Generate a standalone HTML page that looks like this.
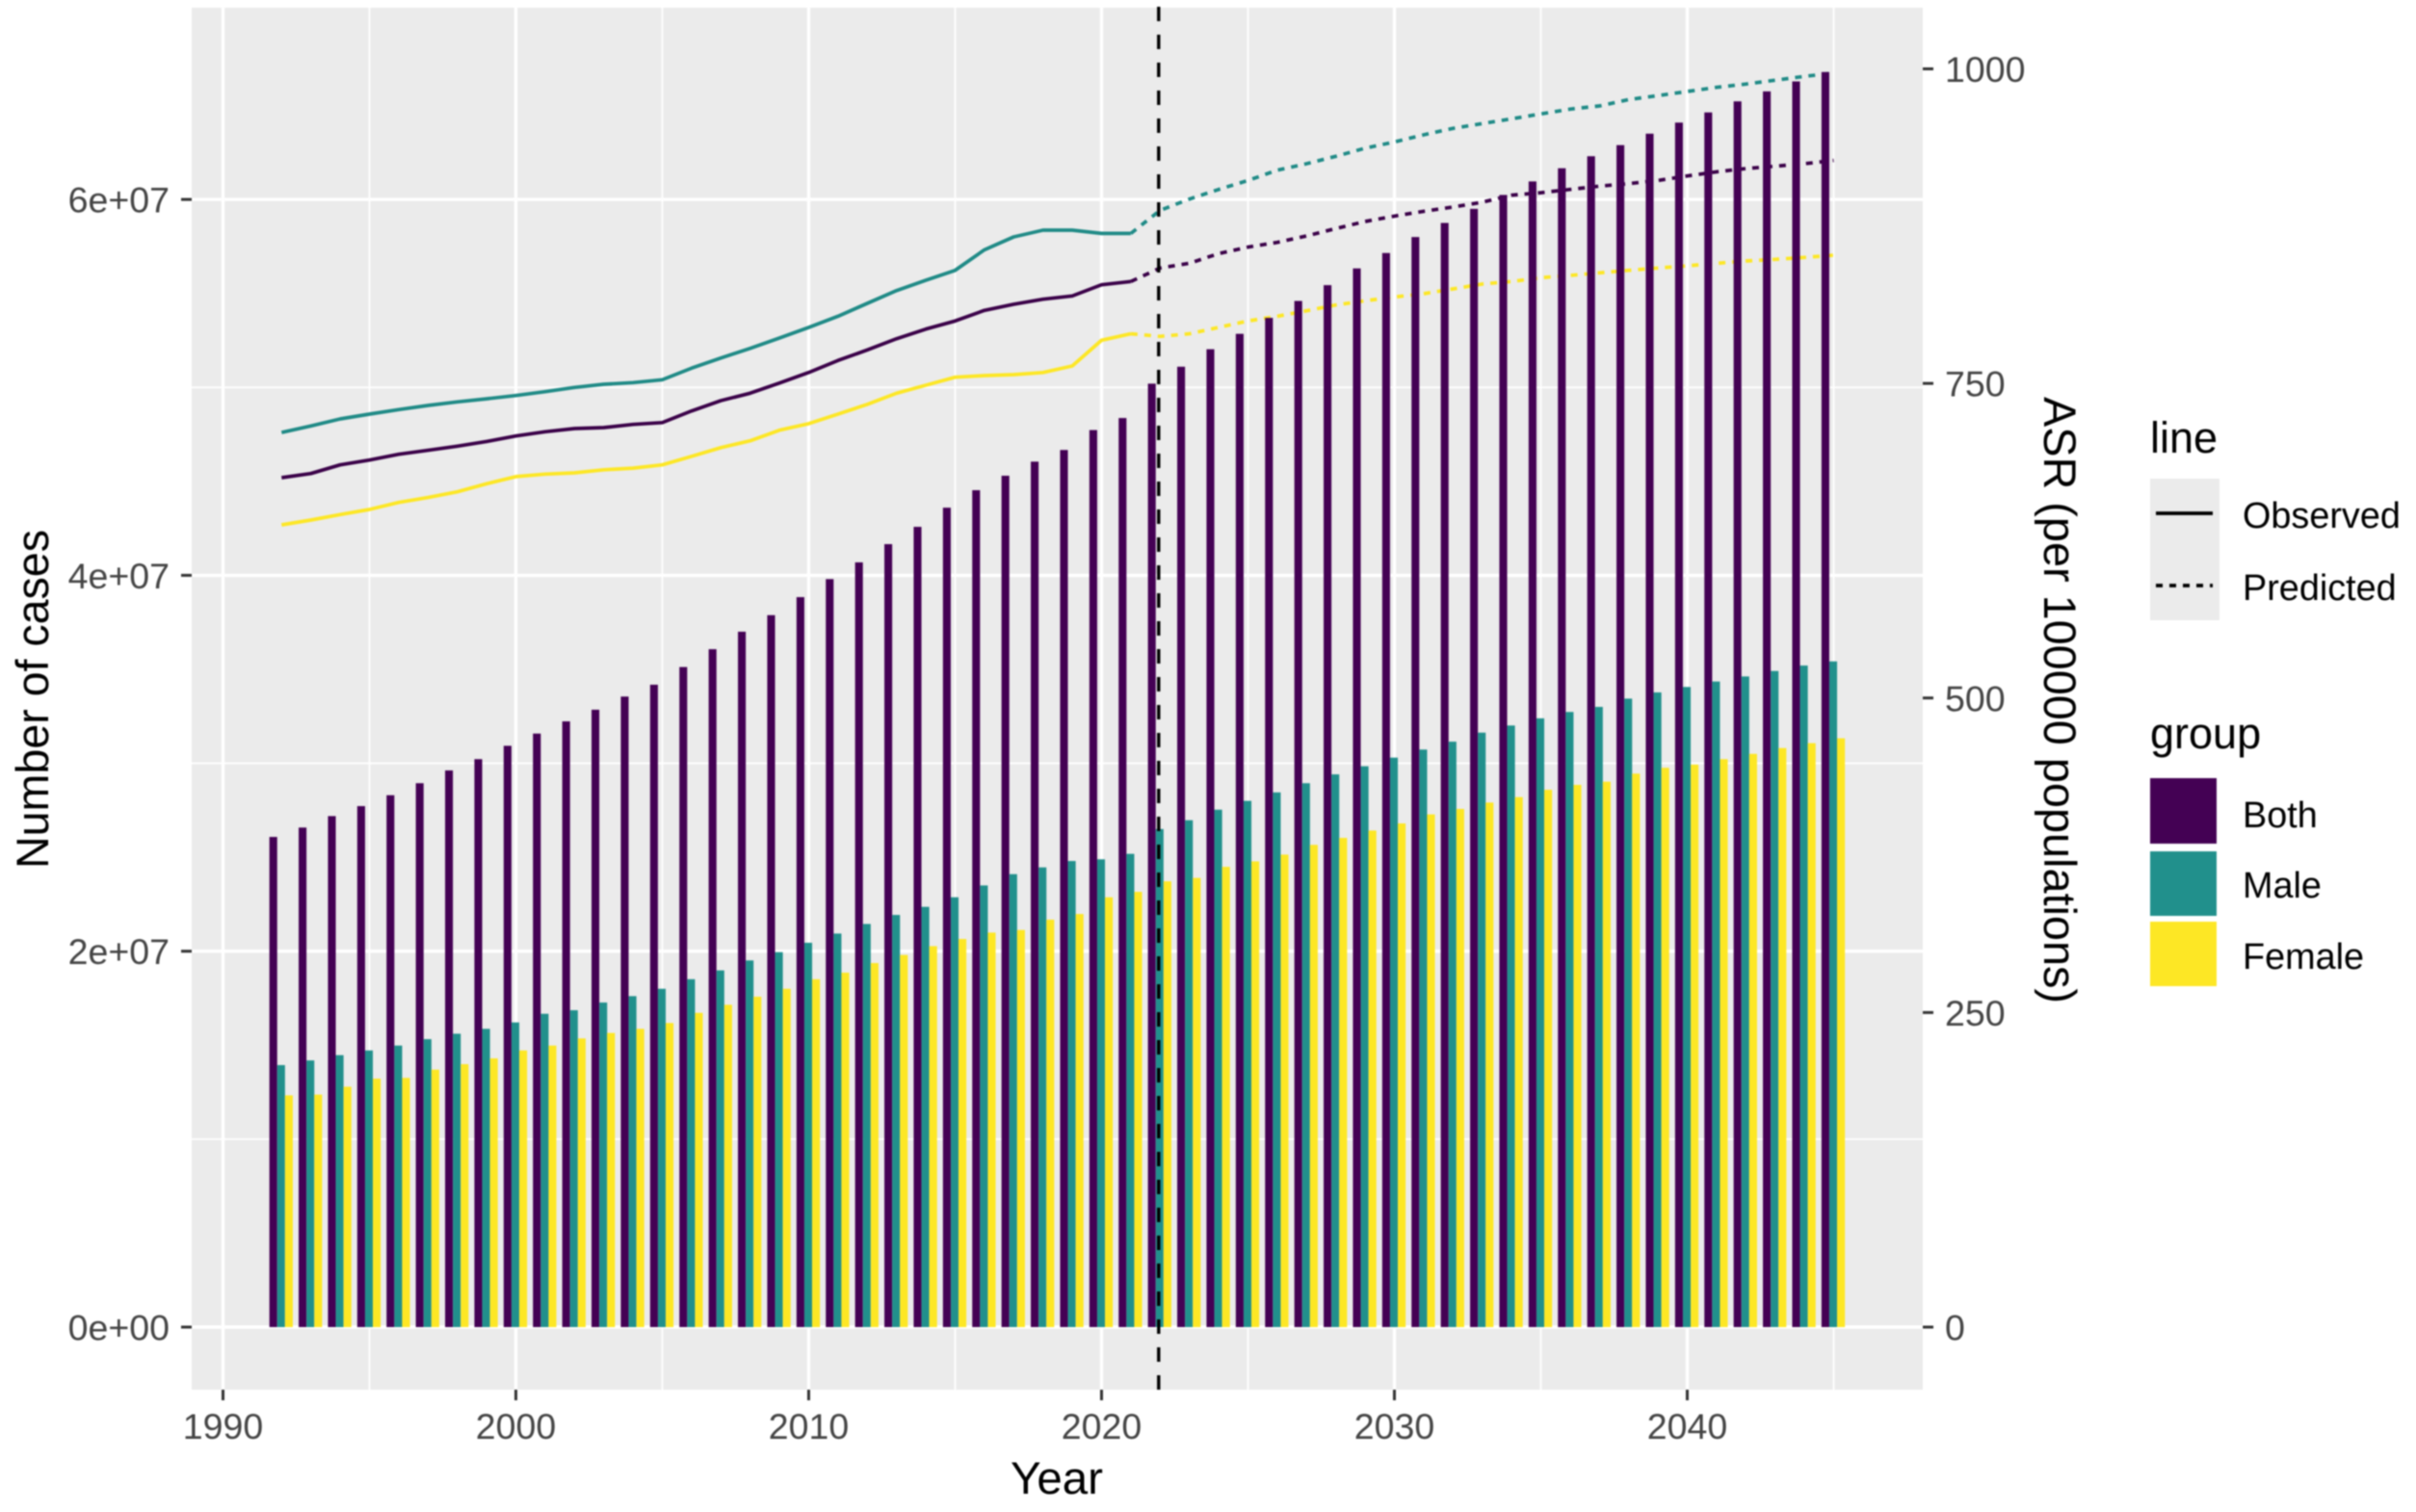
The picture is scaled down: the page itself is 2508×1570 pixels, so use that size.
<!DOCTYPE html>
<html>
<head>
<meta charset="utf-8">
<title>Number of cases and ASR by year</title>
<style>
html,body{margin:0;padding:0;background:#fff;}
body{width:2508px;height:1570px;overflow:hidden;}
svg{display:block;filter:blur(0.7px);}
text{font-family:"Liberation Sans",Arial,sans-serif;}
</style>
</head>
<body>
<svg id="chart" width="2508" height="1570" viewBox="0 0 2508 1570" xmlns="http://www.w3.org/2000/svg">
  <rect x="199" y="8" width="1797" height="1435" fill="#EBEBEB"/>
  <g id="grid"></g>
  <g id="lines"></g>
  <g id="bars"></g>
  <g id="refline"></g>
  <g id="axes"></g>

  <text x="1097" y="1551" font-size="47.5" text-anchor="middle" fill="#000">Year</text>
  <text transform="translate(50,726) rotate(-90)" font-size="47" text-anchor="middle" textLength="352" lengthAdjust="spacingAndGlyphs" fill="#000">Number of cases</text>
  <text transform="translate(2122,727) rotate(90)" font-size="47" text-anchor="middle" textLength="630" lengthAdjust="spacingAndGlyphs" fill="#000">ASR (per 100000 populations)</text>

  <g>
    <text x="2232" y="470" font-size="45" fill="#000">line</text>
    <rect x="2232" y="497" width="72" height="147" fill="#EBEBEB"/>
    <line x1="2238" x2="2297" y1="533" y2="533" stroke="#000" stroke-width="3.8"/>
    <line x1="2238" x2="2297" y1="608" y2="608" stroke="#000" stroke-width="3.8" stroke-dasharray="7 7"/>
    <text x="2328" y="548" font-size="37.8" fill="#000">Observed</text>
    <text x="2328" y="623" font-size="37.8" fill="#000">Predicted</text>
  </g>
  <g>
    <text x="2232" y="777" font-size="45" fill="#000">group</text>
    <rect x="2232" y="808" width="69" height="68" fill="#440154"/>
    <rect x="2232" y="884" width="69" height="67" fill="#21908C"/>
    <rect x="2232" y="957" width="69" height="67" fill="#FDE725"/>
    <text x="2328" y="859" font-size="37.8" fill="#000">Both</text>
    <text x="2328" y="932" font-size="37.8" fill="#000">Male</text>
    <text x="2328" y="1006" font-size="37.8" fill="#000">Female</text>
  </g>
</svg>
<script>
var years = [1992,1993,1994,1995,1996,1997,1998,1999,2000,2001,2002,2003,2004,2005,2006,2007,2008,2009,2010,2011,2012,2013,2014,2015,2016,2017,2018,2019,2020,2021,2022,2023,2024,2025,2026,2027,2028,2029,2030,2031,2032,2033,2034,2035,2036,2037,2038,2039,2040,2041,2042,2043,2044,2045];

// Cases, in millions
var casesBoth = [26.08,26.58,27.19,27.72,28.30,28.94,29.62,30.22,30.93,31.58,32.23,32.85,33.55,34.18,35.12,36.07,37.00,37.88,38.84,39.80,40.69,41.66,42.58,43.60,44.53,45.30,46.05,46.67,47.73,48.37,50.20,51.10,52.03,52.85,53.70,54.60,55.44,56.33,57.15,58.00,58.75,59.50,60.24,60.96,61.66,62.30,62.89,63.50,64.09,64.63,65.22,65.75,66.28,66.78];
var casesMale = [13.94,14.19,14.47,14.72,14.98,15.32,15.61,15.87,16.21,16.67,16.86,17.27,17.61,18.00,18.51,18.98,19.51,19.95,20.45,20.94,21.45,21.93,22.36,22.87,23.50,24.10,24.46,24.80,24.89,25.18,26.50,26.97,27.53,28.00,28.45,28.94,29.41,29.84,30.30,30.73,31.15,31.63,32.01,32.39,32.73,33.00,33.44,33.77,34.06,34.35,34.62,34.91,35.20,35.42];
var casesFemale = [12.33,12.37,12.79,13.22,13.26,13.70,13.99,14.30,14.72,14.98,15.36,15.65,15.87,16.18,16.72,17.15,17.58,18.00,18.51,18.86,19.37,19.80,20.27,20.65,20.99,21.13,21.68,21.98,22.87,23.16,23.72,23.90,24.49,24.78,25.14,25.66,26.03,26.42,26.80,27.28,27.57,27.91,28.20,28.59,28.85,29.02,29.45,29.76,29.93,30.22,30.50,30.81,31.07,31.33];

// Age-standardised rate, per 100000
var asrBoth = [675.1,678.4,685.3,689.1,693.7,696.8,700.1,703.9,708.2,711.6,714.1,714.9,717.4,718.9,728.1,736.3,742.2,750.3,758.7,768.2,776.6,785.5,793.2,799.6,808.0,812.9,816.9,819.5,828.4,831.0,841.7,845.5,853.2,858.3,862.1,867.2,873.1,878.7,883.0,886.8,890.2,894.0,899.6,901.6,904.2,906.8,908.8,911.3,914.9,918.2,920.8,922.6,924.6,927.2];
var asrMale = [711.0,716.2,721.8,725.6,729.2,732.5,735.3,737.8,740.4,743.4,746.8,749.3,750.6,752.9,762.1,770.2,777.9,786.1,794.5,803.4,813.6,823.8,832.0,839.9,856.2,866.4,871.8,871.8,869.2,869.2,887.6,896.5,904.2,911.3,919.5,924.6,930.5,936.9,941.9,947.6,952.7,956.5,960.3,964.2,968.0,970.5,975.6,978.7,982.0,985.3,987.9,991.0,994.0,996.6];
var asrFemale = [637.6,641.4,645.8,649.8,655.4,659.3,663.8,670.3,675.9,677.9,678.9,681.4,682.7,685.3,692.0,699.0,704.4,712.8,718.0,725.6,733.3,742.2,748.6,754.9,756.2,757.0,758.7,763.9,784.3,789.4,787.4,789.4,794.5,799.6,803.4,807.7,812.3,815.7,818.7,821.3,825.1,829.0,831.0,834.0,835.8,837.9,839.9,841.7,843.5,845.5,847.3,848.6,850.1,851.9];

var lastObservedYear = 2021;
var referenceYear = 2022;

var xTickValues = [1990,2000,2010,2020,2030,2040];
var xTickLabels = ["1990","2000","2010","2020","2030","2040"];
var xMinorGrid = [1995,2005,2015,2025,2035,2045];
var yTickValues = [0,20,40,60];
var yTickLabels = ["0e+00","2e+07","4e+07","6e+07"];
var yMinorGrid = [10,30,50];
var asrTickValues = [0,250,500,750,1000];
var asrTickLabels = ["0","250","500","750","1000"];

var NS = "http://www.w3.org/2000/svg";
var PANEL = {left:199, right:1996, top:8, bottom:1443};
var BAR_W = 8.1;

function xScale(year){ return 231.5 + (year - 1990) * 30.4; }
function yCases(m){ return 1378 - m * 19.515; }
function yAsr(r){ return 1378 - r * 1.3065; }

function make(tag, attrs, parent){
  var n = document.createElementNS(NS, tag);
  for (var k in attrs) n.setAttribute(k, attrs[k]);
  parent.appendChild(n);
  return n;
}

var grid = document.getElementById("grid");
var barsG = document.getElementById("bars");
var linesG = document.getElementById("lines");
var axes = document.getElementById("axes");
var refG = document.getElementById("refline");

xMinorGrid.forEach(function(v){
  var el = make("line",{x1:xScale(v),x2:xScale(v),y1:PANEL.top,y2:PANEL.bottom,stroke:"#fff","stroke-width":1.8},grid);
  
  
});
yMinorGrid.forEach(function(v){
  var el = make("line",{x1:PANEL.left,x2:PANEL.right,y1:yCases(v),y2:yCases(v),stroke:"#fff","stroke-width":1.8},grid);
  
  
});
xTickValues.forEach(function(v){
  var el = make("line",{x1:xScale(v),x2:xScale(v),y1:PANEL.top,y2:PANEL.bottom,stroke:"#fff","stroke-width":3.4},grid);
  
  
});
yTickValues.forEach(function(v){
  var el = make("line",{x1:PANEL.left,x2:PANEL.right,y1:yCases(v),y2:yCases(v),stroke:"#fff","stroke-width":3.4},grid);
  
  
});

function drawSeriesLine(values, color, name){
  var obs = [], pred = [];
  years.forEach(function(y,i){
    var p = xScale(y).toFixed(1) + "," + yAsr(values[i]).toFixed(1);
    if (y <= lastObservedYear) obs.push(p);
    if (y >= lastObservedYear) pred.push(p);
  });
  var a = make("polyline",{points:obs.join(" "),fill:"none",stroke:color,"stroke-width":3.7,"stroke-linejoin":"round"},linesG);
  
  
  var b = make("polyline",{points:pred.join(" "),fill:"none",stroke:color,"stroke-width":3.7,"stroke-dasharray":"7 7"},linesG);
  
  
}
drawSeriesLine(asrFemale, "#FDE725", "female");
drawSeriesLine(asrBoth, "#3A0148", "both");
drawSeriesLine(asrMale, "#1F8A86", "male");

function drawBars(values, color, offset, name){
  years.forEach(function(y,i){
    var top = yCases(values[i]);
    var el = make("rect",{x:(xScale(y) + offset - BAR_W/2 - 0.5).toFixed(2),y:top.toFixed(2),width:BAR_W,height:(yCases(0)-top).toFixed(2),fill:color},barsG);
    
    
  });
}
drawBars(casesBoth, "#440154", -BAR_W, "both");
drawBars(casesMale, "#21908C", 0, "male");
drawBars(casesFemale, "#FDE725", BAR_W, "female");

var refX = xScale(referenceYear) - 1.5;
var ref = make("line",{x1:refX,x2:refX,y1:PANEL.bottom,y2:0,stroke:"#000","stroke-width":3.4,"stroke-dasharray":"15 14"},refG);



xTickValues.forEach(function(v,i){
  var t = make("line",{x1:xScale(v),x2:xScale(v),y1:PANEL.bottom,y2:PANEL.bottom+11,stroke:"#333","stroke-width":3},axes);
  
  
  var l = make("text",{x:xScale(v),y:1494,"font-size":37.5,"text-anchor":"middle",fill:"#444"},axes);
  l.textContent = xTickLabels[i];
  
  
});
yTickValues.forEach(function(v,i){
  var t = make("line",{x1:PANEL.left-11,x2:PANEL.left,y1:yCases(v),y2:yCases(v),stroke:"#333","stroke-width":3},axes);
  
  
  var l = make("text",{x:176,y:yCases(v)+13.5,"font-size":37.5,"text-anchor":"end",fill:"#444"},axes);
  l.textContent = yTickLabels[i];
  
  
});
asrTickValues.forEach(function(v,i){
  var t = make("line",{x1:PANEL.right,x2:PANEL.right+11,y1:yAsr(v),y2:yAsr(v),stroke:"#333","stroke-width":3},axes);
  
  
  var l = make("text",{x:2019,y:yAsr(v)+13.5,"font-size":37.5,"text-anchor":"start",fill:"#444"},axes);
  l.textContent = asrTickLabels[i];
  
  
});
</script>
</body>
</html>
